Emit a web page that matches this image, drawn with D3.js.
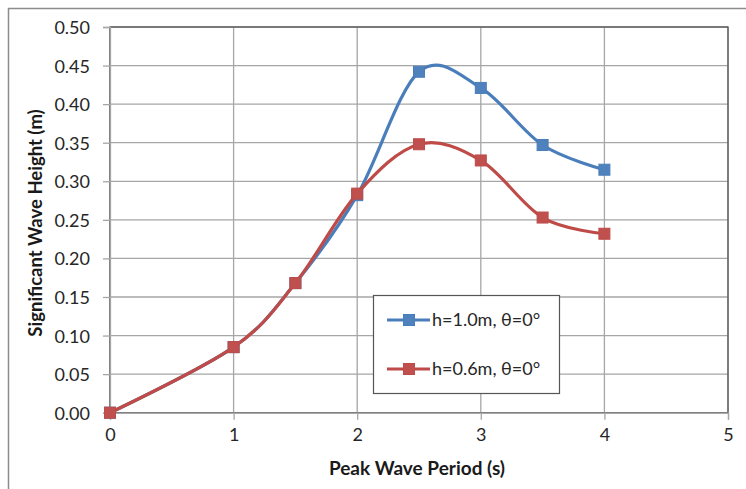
<!DOCTYPE html>
<html>
<head>
<meta charset="utf-8">
<script src="https://cdn.jsdelivr.net/npm/d3@7"></script>
<style>
  body { margin: 0; background: #fff; }
  svg { display: block; font-family: Lato, "Open Sans", sans-serif; }
</style>
</head>
<body>
<div id="chart"></div>
<script>
// Wave period (s) and significant wave height (m) for each case
const periods = [0, 1, 1.5, 2, 2.5, 3, 3.5, 4];
const heightH10 = [0, 0.085, 0.168, 0.282, 0.442, 0.421, 0.347, 0.315];
const heightH06 = [0, 0.085, 0.168, 0.284, 0.348, 0.327, 0.253, 0.232];
const seriesNames = ['h=1.0m, θ=0°', 'h=0.6m, θ=0°'];
const xTicks = [0, 1, 2, 3, 4, 5];
const yTicks = [0, 0.05, 0.1, 0.15, 0.2, 0.25, 0.3, 0.35, 0.4, 0.45, 0.5];

const W = 746, H = 489;
const plot = { left: 110, right: 728, top: 27, bottom: 412.7 };

const colors = [
  { line: '#4A7EBB', fill: '#4F81BD' },
  { line: '#BE4B48', fill: '#C0504D' }
];

const svg = d3.select('#chart').append('svg')
  .attr('width', W)
  .attr('height', H);

// chart area border (clipped on right/bottom like the original)
svg.append('rect')
  .attr('x', 8.5).attr('y', 8.5)
  .attr('width', W + 20).attr('height', H + 20)
  .attr('fill', '#fff')
  .attr('stroke', '#8c8c8c')
  .attr('stroke-width', 1.5);

const x = d3.scaleLinear().domain([0, 5]).range([plot.left, plot.right]);
const y = d3.scaleLinear().domain([0, 0.5]).range([plot.bottom, plot.top]);

// gridlines
svg.append('g')
  .selectAll('line')
  .data(yTicks)
  .join('line')
  .attr('x1', plot.left).attr('x2', plot.right)
  .attr('y1', d => y(d)).attr('y2', d => y(d))
  .attr('stroke', '#a6a6a6')
  .attr('stroke-width', 1.3);

svg.append('g')
  .selectAll('line')
  .data(xTicks)
  .join('line')
  .attr('x1', d => x(d)).attr('x2', d => x(d))
  .attr('y1', plot.top).attr('y2', plot.bottom)
  .attr('stroke', '#a6a6a6')
  .attr('stroke-width', 1.3);

// plot area border
svg.append('rect')
  .attr('x', plot.left).attr('y', plot.top)
  .attr('width', plot.right - plot.left)
  .attr('height', plot.bottom - plot.top)
  .attr('fill', 'none')
  .attr('stroke', '#555')
  .attr('stroke-width', 1.3);

// axes
const xAxis = svg.append('g')
  .attr('transform', `translate(0,${plot.bottom})`)
  .call(d3.axisBottom(x).tickValues(xTicks).tickFormat(d3.format('d')).tickSize(7).tickPadding(9));

const yAxis = svg.append('g')
  .attr('transform', `translate(${plot.left},0)`)
  .call(d3.axisLeft(y).tickValues(yTicks).tickFormat(d3.format('.2f')).tickSize(7).tickPadding(13));

[xAxis, yAxis].forEach(ax => {
  ax.select('.domain').attr('stroke', '#a6a6a6').attr('stroke-width', 1.3);
  ax.selectAll('.tick line').attr('stroke', '#a6a6a6').attr('stroke-width', 1.3);
  ax.selectAll('.tick text')
    .attr('fill', '#262626')
    .style('font-family', 'Lato, sans-serif')
    .style('font-size', '18px');
});
yAxis.selectAll('.tick text').attr('dy', '0.36em');

// axis titles
svg.append('text')
  .attr('x', 417).attr('y', 475)
  .attr('text-anchor', 'middle')
  .attr('font-size', 19)
  .attr('font-weight', 'bold')
  .attr('fill', '#1a1a1a')
  .text('Peak Wave Period (s)');

svg.append('text')
  .attr('transform', 'translate(42,223) rotate(-90)')
  .attr('text-anchor', 'middle')
  .attr('font-size', 18.5)
  .attr('font-weight', 'bold')
  .attr('fill', '#1a1a1a')
  .text('Significant Wave Height (m)');

// series
const series = [heightH10, heightH06].map((vals, i) => ({
  name: seriesNames[i],
  color: colors[i],
  points: periods.map((p, j) => ({ x: p, y: vals[j] }))
}));

const line = d3.line()
  .x(d => x(d.x))
  .y(d => y(d.y))
  .curve(d3.curveCatmullRom.alpha(0));

const markerSize = 11;

series.forEach(s => {
  const g = svg.append('g');
  g.append('path')
    .datum(s.points)
    .attr('d', line)
    .attr('fill', 'none')
    .attr('stroke', s.color.line)
    .attr('stroke-width', 3.2)
    .attr('stroke-linejoin', 'round');

  g.selectAll('rect')
    .data(s.points)
    .join('rect')
    .attr('x', d => x(d.x) - markerSize / 2)
    .attr('y', d => y(d.y) - markerSize / 2)
    .attr('width', markerSize)
    .attr('height', markerSize)
    .attr('fill', s.color.fill)
    .attr('stroke', s.color.line)
    .attr('stroke-width', 1);
});

// legend
const legend = svg.append('g').attr('transform', 'translate(373,295)');
legend.append('rect')
  .attr('x', 0.5).attr('y', 0.5)
  .attr('width', 186).attr('height', 98)
  .attr('fill', '#fff')
  .attr('stroke', '#555')
  .attr('stroke-width', 1.2);

const entry = legend.selectAll('g.entry')
  .data(series)
  .join('g')
  .attr('class', 'entry')
  .attr('transform', (d, i) => `translate(0,${25 + i * 49})`);

entry.append('line')
  .attr('x1', 14).attr('x2', 57)
  .attr('stroke', d => d.color.line)
  .attr('stroke-width', 3.2);

entry.append('rect')
  .attr('x', 36 - markerSize / 2).attr('y', -markerSize / 2)
  .attr('width', markerSize).attr('height', markerSize)
  .attr('fill', d => d.color.fill)
  .attr('stroke', d => d.color.line);

entry.append('text')
  .attr('x', 59)
  .attr('dy', '0.36em')
  .attr('font-size', 18)
  .attr('fill', '#262626')
  .text(d => d.name);
</script>
</body>
</html>
